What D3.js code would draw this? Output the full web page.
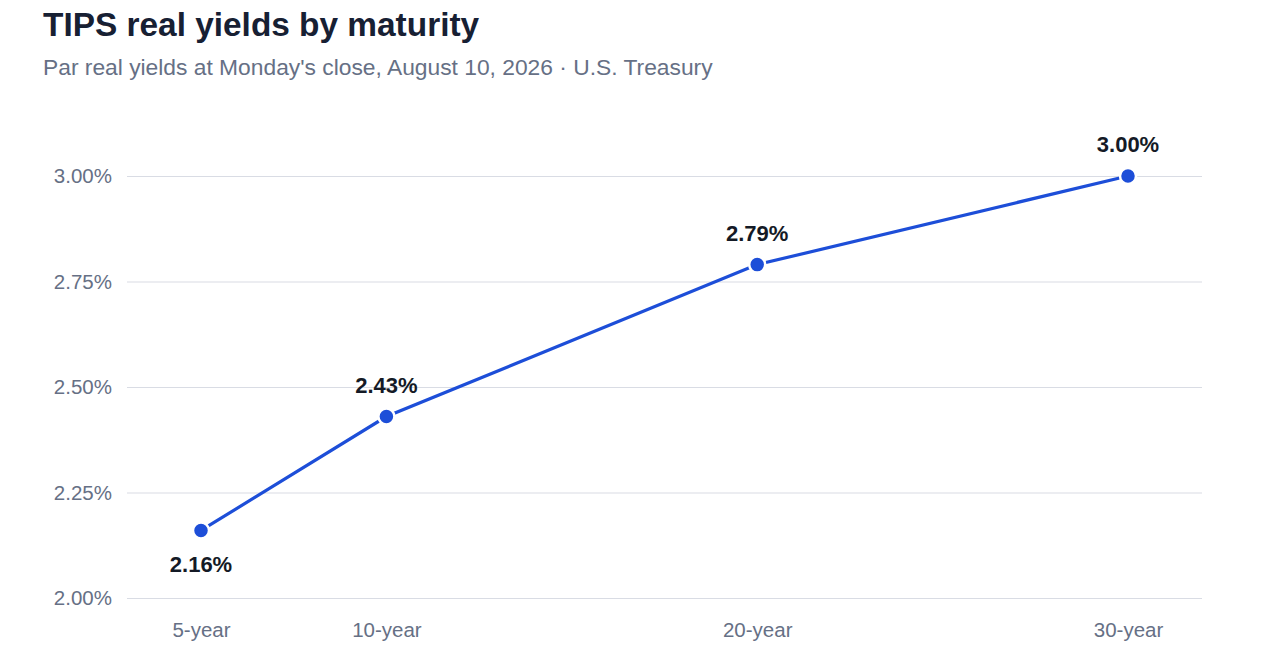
<!DOCTYPE html>
<html>
<head>
<meta charset="utf-8">
<script src="https://cdn.jsdelivr.net/npm/d3@7"></script>
<style>
  body { margin: 0; background: #fff; }
  svg { display: block; font-family: "Liberation Sans", Arial, sans-serif; }
</style>
</head>
<body>
<script>
// maturities in years, with their par real yields (%)
var maturities = [5, 10, 20, 30];
var maturityLabels = ["5-year", "10-year", "20-year", "30-year"];
var yields = [2.16, 2.43, 2.79, 3.00];
var yTicks = [2.00, 2.25, 2.50, 2.75, 3.00];

var window_w = 1280, window_h = 670;

var data = maturities.map(function (m, i) {
    return {m: m, label: maturityLabels[i], y: yields[i]};
});

var xScale = d3.scaleLinear().domain([5, 30]).range([201, 1128]);
var yScale = d3.scaleLinear().domain([2.0, 3.0]).range([598, 176]);

var svg = d3.select("body").append("svg")
    .attr("width", window_w)
    .attr("height", window_h);

svg.append("text")
    .attr("x", 43).attr("y", 36)
    .attr("font-size", 33.4).attr("font-weight", "bold")
    .attr("fill", "#172033")
    .text("TIPS real yields by maturity");

svg.append("text")
    .attr("x", 43).attr("y", 75)
    .attr("font-size", 22.8)
    .attr("fill", "#667085")
    .text("Par real yields at Monday's close, August 10, 2026 \u00b7 U.S. Treasury");

// gridlines + y labels
var yAxis = d3.axisLeft(yScale)
    .tickValues(yTicks)
    .tickSize(-(1202 - 127))
    .tickPadding(15)
    .tickFormat(function (d) { return d.toFixed(2) + "%"; });

var gy = svg.append("g")
    .attr("transform", "translate(127,0)")
    .call(yAxis);
gy.select(".domain").remove();
gy.selectAll(".tick line").attr("stroke", "#d9dce4").attr("stroke-width", 1.2);
gy.selectAll(".tick text")
    .attr("font-size", 20.5)
    .attr("fill", "#667085")
    .attr("font-family", "Liberation Sans, Arial, sans-serif");

// x labels
var xAxis = d3.axisBottom(xScale)
    .tickValues(maturities)
    .tickSize(0)
    .tickPadding(0)
    .tickFormat(function (d, i) { return maturityLabels[i]; });

var gx = svg.append("g")
    .attr("transform", "translate(0,622)")
    .call(xAxis);
gx.select(".domain").remove();
gx.selectAll(".tick text")
    .attr("font-size", 20.5)
    .attr("fill", "#667085")
    .attr("font-family", "Liberation Sans, Arial, sans-serif");

var line = d3.line()
    .x(function (d) { return xScale(d.m); })
    .y(function (d) { return yScale(d.y); });

svg.append("path")
    .datum(data)
    .attr("d", line)
    .attr("fill", "none")
    .attr("stroke", "#1d4ed8")
    .attr("stroke-width", 3.2);

svg.selectAll("circle.pt").data(data)
    .enter()
    .append("circle")
    .attr("class", "pt")
    .attr("cx", function (d) { return xScale(d.m); })
    .attr("cy", function (d) { return yScale(d.y); })
    .attr("r", 8)
    .attr("fill", "#1d4ed8")
    .attr("stroke", "#fff")
    .attr("stroke-width", 2.5);

svg.selectAll("text.val").data(data)
    .enter()
    .append("text")
    .attr("class", "val")
    .attr("x", function (d) { return xScale(d.m); })
    .attr("y", function (d, i) {
        // first point's label sits below the marker
        return i == 0 ? yScale(d.y) + 42 : yScale(d.y) - 24;
    })
    .attr("text-anchor", "middle")
    .attr("font-size", 22)
    .attr("font-weight", "bold")
    .attr("fill", "#141a26")
    .text(function (d) { return d.y.toFixed(2) + "%"; });
</script>
</body>
</html>
